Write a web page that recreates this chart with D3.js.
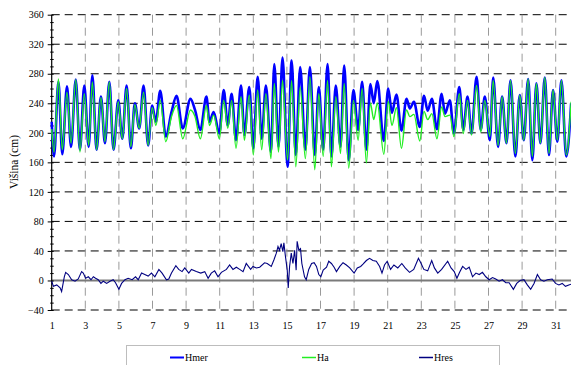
<!DOCTYPE html>
<html>
<head>
<meta charset="utf-8">
<script src="https://cdn.jsdelivr.net/npm/d3@7"></script>
<style>
body{margin:0;background:#fff;}
svg{display:block;}
svg text{font-family:"Liberation Serif","DejaVu Serif","Times New Roman",serif !important;fill:#000;}
</style>
</head>
<body>
<svg width="571" height="365"></svg>
<script>
// times of highs/lows (day of month)
var tideDays = [1.00,1.14,1.40,1.63,1.91,2.15,2.43,2.68,2.94,3.20,3.42,3.67,3.93,4.17,4.43,4.68,4.96,5.20,5.46,5.71,
    5.95,6.21,6.47,6.74,6.98,7.20,7.46,7.79,8.13,8.43,8.80,9.26,9.53,9.85,10.21,10.39,10.64,10.98,11.24,11.48,
    11.71,11.97,12.27,12.47,12.76,13.00,13.26,13.50,13.75,14.05,14.25,14.50,14.74,15.04,15.28,15.53,15.79,16.10,16.37,16.66,
    16.90,17.16,17.42,17.65,17.91,18.19,18.41,18.68,18.96,19.24,19.48,19.73,19.97,20.17,20.38,20.77,21.03,21.25,21.52,21.82,
    22.12,22.32,22.56,22.91,23.16,23.38,23.63,23.93,24.21,24.41,24.70,24.94,25.26,25.50,25.75,25.99,26.29,26.54,26.78,27.08,
    27.28,27.57,27.81,28.07,28.31,28.60,28.86,29.10,29.36,29.61,29.85,30.09,30.35,30.60,30.84,31.10,31.34,31.63,31.92];
var hmer = [215,168,269,171,263,181,272,177,264,181,278,177,249,186,269,177,244,192,264,179,
    240,206,264,183,237,215,257,195,228,250,206,246,231,204,249,215,228,199,258,210,
    253,190,264,197,262,179,276,192,264,174,293,181,302,154,298,170,289,177,289,170,
    262,177,293,168,264,181,291,163,258,204,269,177,266,240,270,189,260,227,252,203,
    246,233,242,208,250,230,246,205,253,226,244,199,262,204,249,199,276,204,249,190,
    275,181,249,186,271,168,251,190,273,163,267,186,275,170,258,188,271,168,240];
var ha = [205,174,273,177,255,186,272,174,253,183,269,177,248,188,269,177,242,192,260,181,
    238,206,255,183,234,210,244,188,222,237,192,231,222,192,237,210,224,192,244,206,
    244,179,249,190,251,170,258,177,253,165,267,174,271,163,271,154,262,165,276,150,
    253,168,271,154,249,172,267,152,244,190,260,159,240,218,240,171,243,210,234,179,
    231,222,225,189,229,218,226,192,235,222,224,195,253,199,244,197,264,201,244,195,
    271,183,249,186,271,172,251,190,273,168,267,186,275,172,258,190,271,170,242];

var resDays = [1.00,1.10,1.30,1.50,1.59,1.75,1.83,1.99,2.19,2.39,2.58,2.78,2.88,3.02,3.18,3.34,3.48,3.61,3.77,3.93,
    4.07,4.27,4.47,4.66,4.80,5.00,5.16,5.36,5.55,5.79,5.99,6.15,6.35,6.54,6.74,6.94,7.14,7.38,7.57,7.83,
    7.97,8.13,8.39,8.56,8.76,8.92,9.16,9.32,9.61,9.87,10.11,10.31,10.50,10.70,10.90,11.10,11.40,11.59,11.79,11.99,
    12.19,12.39,12.58,12.84,12.98,13.18,13.38,13.67,13.83,14.07,14.23,14.37,14.47,14.56,14.66,14.76,14.82,14.90,15.02,15.08,
    15.16,15.26,15.36,15.46,15.55,15.61,15.71,15.81,15.89,16.05,16.15,16.30,16.47,16.62,16.76,16.90,17.02,17.16,17.36,17.49,
    17.65,17.81,17.95,18.15,18.34,18.54,18.74,19.00,19.19,19.39,19.53,19.73,19.92,20.12,20.32,20.52,20.66,20.81,20.97,21.17,
    21.37,21.60,21.84,22.04,22.30,22.55,22.83,22.99,23.15,23.38,23.62,23.78,23.98,24.21,24.57,24.77,24.96,25.12,25.28,25.46,
    25.66,25.85,26.05,26.25,26.45,26.64,26.84,27.04,27.24,27.43,27.63,27.83,28.03,28.23,28.48,28.68,28.88,29.11,29.31,29.51,
    29.71,29.91,30.10,30.30,30.50,30.79,30.99,31.19,31.39,31.58,31.78,31.92];
var hres = [-1,-8,-6,-10,-15,5,11,8,1,-1,2,12,10,3,5,1,5,3,1,-4,
    -1,-4,-1,1,-3,-12,-4,1,3,1,5,1,10,8,6,10,5,15,10,1,
    2,10,20,15,12,17,10,15,12,10,12,3,10,13,5,11,15,21,15,18,
    15,12,23,15,19,17,18,24,23,19,28,37,46,41,50,39,51,35,14,-10,
    19,37,23,41,14,53,41,43,23,5,1,15,23,24,19,8,5,14,18,26,
    23,18,12,19,24,21,17,10,17,19,22,27,30,27,26,19,10,21,26,15,
    21,17,23,17,11,15,30,23,15,13,27,17,10,15,26,17,12,3,11,19,
    15,18,5,10,8,11,5,1,4,2,-1,1,-3,-3,-12,-4,0,1,-6,-12,
    -4,8,1,-1,1,2,-4,-6,-4,-8,-6,-5];

var yTicks = [-40,0,40,80,120,160,200,240,280,320,360];
var xTicks = [1,3,5,7,9,11,13,15,17,19,21,23,25,27,29,31];
var seriesNames = ['Hmer','Ha','Hres'];
var seriesColors = ['#0000ff','#22ee22','#000080'];

var plotLeft = 51.7, plotTop = 14.7, plotBottom = 310, plotRight = 571;
var svg = d3.select('svg');

var x = d3.scaleLinear().domain([1,32]).range([plotLeft, plotLeft + 31*16.8]);
var y = d3.scaleLinear().domain([-40,360]).range([plotBottom, plotTop]);

// horizontal grid
svg.selectAll('.hgrid')
    .data(yTicks.filter(d => d != 0))
    .join('line')
    .attr('class','hgrid')
    .attr('x1',plotLeft).attr('x2',plotRight)
    .attr('y1',d => y(d)).attr('y2',d => y(d))
    .attr('stroke','#000')
    .attr('stroke-width',1)
    .attr('stroke-dasharray','8,5');

// vertical grid
svg.selectAll('.vgrid')
    .data(xTicks.filter(d => d != 1))
    .join('line')
    .attr('class','vgrid')
    .attr('x1',d => x(d)).attr('x2',d => x(d))
    .attr('y1',plotTop).attr('y2',plotBottom + 2)
    .attr('stroke','#9a9a9a')
    .attr('stroke-width',1)
    .attr('stroke-dasharray','8,5');

// zero line
svg.append('line')
    .attr('x1',plotLeft).attr('x2',plotRight)
    .attr('y1',y(0)).attr('y2',y(0))
    .attr('stroke','#7a7a7a')
    .attr('stroke-width',2);

// y axis
var minor = d3.range(-40,361,10).filter(d => d % 40 != 0);
svg.append('g')
    .attr('transform','translate(' + (plotLeft + 2) + ',0)')
    .call(d3.axisLeft(y).tickValues(minor).tickSize(3.5).tickFormat(''))
    .call(g => g.select('.domain').remove());
var yAxis = svg.append('g')
    .attr('transform','translate(' + (plotLeft + 2) + ',0)')
    .call(d3.axisLeft(y).tickValues(yTicks).tickSize(6).tickSizeOuter(0).tickPadding(4));
yAxis.select('.domain').remove();
yAxis.selectAll('text').attr('font-size',10);
svg.append('line')
    .attr('x1',plotLeft).attr('x2',plotLeft)
    .attr('y1',plotTop).attr('y2',plotBottom)
    .attr('stroke','#000').attr('stroke-width',1.2);

// x axis labels
var xAxis = svg.append('g')
    .attr('transform','translate(0,' + plotBottom + ')')
    .call(d3.axisBottom(x).tickValues(xTicks).tickSize(0).tickPadding(12));
xAxis.select('.domain').remove();
xAxis.selectAll('text').attr('font-size',10);

svg.append('text')
    .attr('transform','translate(14,162) rotate(-90)')
    .attr('text-anchor','middle')
    .attr('dominant-baseline','central')
    .attr('font-size',11.5)
    .text('Višina (cm)');

// series
var tideLine = d3.line().x(d => x(d[0])).y(d => y(d[1])).curve(d3.curveMonotoneX);
var resLine = d3.line().x(d => x(d[0])).y(d => y(d[1]));

svg.append('path')
    .datum(tideDays.map((d,i) => [d, hmer[i]]))
    .attr('d',tideLine)
    .attr('fill','none')
    .attr('stroke',seriesColors[0])
    .attr('stroke-width',2.6);

svg.append('path')
    .datum(tideDays.map((d,i) => [d, ha[i]]))
    .attr('d',tideLine)
    .attr('fill','none')
    .attr('stroke',seriesColors[1])
    .attr('stroke-width',1.4);

svg.append('path')
    .datum(resDays.map((d,i) => [d, hres[i]]))
    .attr('d',resLine)
    .attr('fill','none')
    .attr('stroke',seriesColors[2])
    .attr('stroke-width',1.1);

// legend
svg.append('rect')
    .attr('x',126.5).attr('y',345.5)
    .attr('width',373).attr('height',30)
    .attr('fill','#fff')
    .attr('stroke','#bdbdbd');

var legendX = [170, 302, 419];
var legend = svg.selectAll('.legend')
    .data(seriesNames)
    .join('g')
    .attr('class','legend')
    .attr('transform',(d,i) => 'translate(' + legendX[i] + ',357.5)');
legend.append('line')
    .attr('x1',0).attr('x2',14)
    .attr('stroke',(d,i) => seriesColors[i])
    .attr('stroke-width',(d,i) => i == 0 ? 2 : 1.5);
legend.append('text')
    .attr('x',15)
    .attr('dominant-baseline','central')
    .attr('font-size',10)
    .text(d => d);
</script>
</body>
</html>
